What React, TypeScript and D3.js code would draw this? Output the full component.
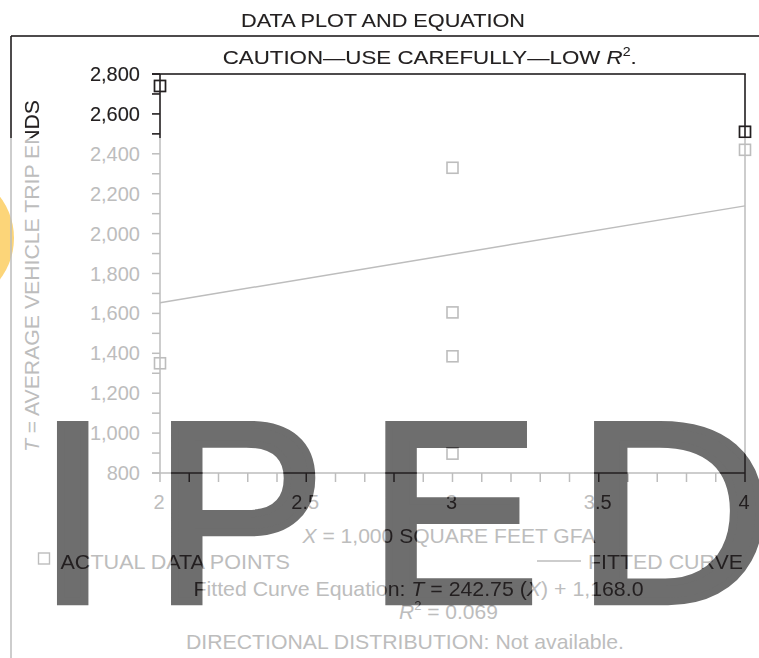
import React from 'react';
import * as d3 from 'd3';

// data
const siteX = [2, 2, 3, 3, 3, 3, 4, 4];
const siteT = [2740, 1350, 2330, 1605, 1385, 897, 2510, 2420];
const xTickLabels = [2, 2.5, 3, 3.5, 4];
const yTickLabels = [800, 1000, 1200, 1400, 1600, 1800, 2000, 2200, 2400, 2600, 2800];
const slope = 242.75;
const intercept = 1168.0;
const rSquared = 0.069;
const watermark = ['I', 'P', 'E', 'D'];
const watermarkX = [37, 153.7, 368, 575.7];

const width = 759;
const height = 658;
const font = 'Liberation Sans, Arial, Helvetica, sans-serif';

const x = d3.scaleLinear().domain([2, 4]).range([160, 745]);
const y = d3.scaleLinear().domain([800, 2800]).range([473, 74]);
const fmt = d3.format(',');

const fitLine = d3.line<number>()
  .x((d) => x(d))
  .y((d) => y(slope * d + intercept));

// the whole chart in one colour; drawn grey, then again in black where it shows through
function Layer({ c }: { c: string }) {
  const minorY = y.ticks(20);
  const minorX = x.ticks(20);
  const sq = 11;
  return (
    <g fontFamily={font}>
      <line x1={11} x2={width} y1={36} y2={36} stroke={c} strokeWidth={1.5} />
      <line x1={11} x2={11} y1={36} y2={height} stroke={c} strokeWidth={1.5} />
      <text x={241} y={26.5} fontSize={19} fill={c} textLength={284} lengthAdjust="spacingAndGlyphs">
        DATA PLOT AND EQUATION
      </text>
      <text x={222.7} y={63.5} fontSize={19} fill={c} textLength={414} lengthAdjust="spacingAndGlyphs">
        CAUTION—USE CAREFULLY—LOW <tspan fontStyle="italic">R</tspan>
        <tspan dy={-8} fontSize={12}>2</tspan>
        <tspan dy={8}>.</tspan>
      </text>

      <line x1={152} x2={x(4) + 0.75} y1={y(2800)} y2={y(2800)} stroke={c} strokeWidth={1.5} />
      <line x1={x(2)} x2={x(2)} y1={y(2800)} y2={y(800)} stroke={c} strokeWidth={1.5} />
      <line x1={x(4)} x2={x(4)} y1={y(2800)} y2={y(800)} stroke={c} strokeWidth={1.5} />
      <line x1={152} x2={x(4)} y1={y(800)} y2={y(800)} stroke={c} strokeWidth={1.5} />

      {minorY.map((t) => (
        <line key={'yt' + t} x1={152} x2={x(2)} y1={y(t)} y2={y(t)} stroke={c} strokeWidth={1.5} />
      ))}
      {yTickLabels.map((t) => (
        <text key={'yl' + t} x={140} y={y(t) + 7} fontSize={20} fill={c} textAnchor="end">
          {fmt(t)}
        </text>
      ))}
      {minorX.map((t) => (
        <line key={'xt' + t} x1={x(t)} x2={x(t)} y1={y(800)} y2={y(800) + 9} stroke={c} strokeWidth={1.5} />
      ))}
      {xTickLabels.map((t) => (
        <text key={'xl' + t} x={x(t) - 1} y={509} fontSize={20} fill={c} textAnchor="middle">
          {t}
        </text>
      ))}

      <path d={fitLine([2, 4]) || ''} fill="none" stroke={c} strokeWidth={1.5} />

      {siteX.map((v, i) => (
        <rect key={'p' + i} x={x(v) - sq / 2} y={y(siteT[i]) - sq / 2} width={sq} height={sq}
          fill="none" stroke={c} strokeWidth={1.6} />
      ))}

      <text x={38.5} y={276} fontSize={21} fill={c} textAnchor="middle"
        transform="rotate(-90 38.5 276)" textLength={352} lengthAdjust="spacingAndGlyphs">
        <tspan fontStyle="italic">T</tspan> = AVERAGE VEHICLE TRIP ENDS
      </text>
      <text x={302.5} y={542.7} fontSize={21} fill={c} textLength={293} lengthAdjust="spacingAndGlyphs">
        <tspan fontStyle="italic">X</tspan> = 1,000 SQUARE FEET GFA
      </text>

      <rect x={38.5} y={553} width={11} height={11} fill="none" stroke={c} strokeWidth={1.4} />
      <text x={60.5} y={569} fontSize={21} fill={c} textLength={229.5} lengthAdjust="spacingAndGlyphs">
        ACTUAL DATA POINTS
      </text>
      <line x1={537} x2={581} y1={561} y2={561} stroke={c} strokeWidth={1.5} />
      <text x={588} y={569} fontSize={21} fill={c} textLength={155} lengthAdjust="spacingAndGlyphs">
        FITTED CURVE
      </text>

      <text x={193.5} y={596} fontSize={21} fill={c} textLength={450} lengthAdjust="spacingAndGlyphs">
        Fitted Curve Equation: <tspan fontStyle="italic">T</tspan> = {slope} (<tspan fontStyle="italic">X</tspan>) + {d3.format(',.1f')(intercept)}
      </text>
      <text x={399} y={619} fontSize={21} fill={c}>
        <tspan fontStyle="italic">R</tspan>
        <tspan dy={-9} fontSize={13}>2</tspan>
        <tspan dy={9}> = {rSquared}</tspan>
      </text>
      <text x={186} y={649} fontSize={21} fill={c} textLength={438} lengthAdjust="spacingAndGlyphs">
        DIRECTIONAL DISTRIBUTION: Not available.
      </text>
    </g>
  );
}

function Letters({ fill }: { fill: string }) {
  return (
    <g fill={fill} stroke={fill} strokeWidth={7.5} fontFamily={font} fontSize={257}>
      {watermark.map((ch, i) => (
        <text key={ch} x={watermarkX[i]} y={601.5}
          transform={ch === 'D' ? `translate(${watermarkX[i]} 0) scale(1.06 1) translate(${-watermarkX[i]} 0)` : undefined}>
          {ch}
        </text>
      ))}
    </g>
  );
}

export default function App() {
  return (
    <svg width={width} height={height} style={{ position: 'absolute', left: 0, top: 0, display: 'block', background: '#fff' }}>
      <defs>
        <mask id="darkArea" maskUnits="userSpaceOnUse" x={0} y={0} width={width} height={height}>
          <rect x={0} y={0} width={width} height={138} fill="#fff" />
          <Letters fill="#fff" />
        </mask>
      </defs>
      <rect width={width} height={height} fill="#fff" />
      <circle cx={-54} cy={238} r={68} fill="#fcd06a" opacity={0.9} />
      <Layer c="#bdbdbd" />
      <Letters fill="#6e6e6e" />
      <g mask="url(#darkArea)">
        <Layer c="#231f20" />
      </g>
    </svg>
  );
}
